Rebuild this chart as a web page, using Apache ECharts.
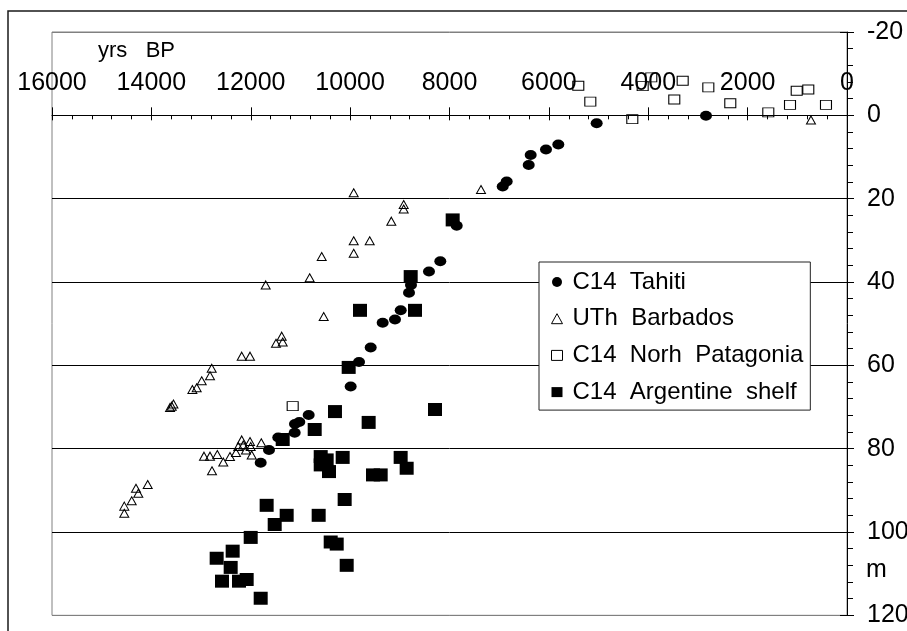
<!DOCTYPE html>
<html>
<head>
<meta charset="utf-8">
<title>Sea level since 16000 yrs BP</title>
<script src="https://cdn.jsdelivr.net/npm/echarts@6/dist/echarts.min.js"></script>
<style>
html, body { margin: 0; padding: 0; background: #fff; }
#chart { width: 907px; height: 631px; }
</style>
</head>
<body>
<div id="chart"></div>
<script>
// [yrs BP, depth m]
var tahiti = [
	[2838, 0.1], [5038, 1.9], [5810, 7.0], [6058, 8.2], [6366, 9.5], [6406, 11.9],
	[6849, 15.9], [6929, 17.1], [7855, 26.5], [8185, 35.0], [8413, 37.5], [8775, 40.7],
	[8815, 42.6], [8982, 46.8], [9097, 49.0], [9345, 49.8], [9586, 55.7], [9821, 59.2],
	[9989, 65.1], [10834, 71.9], [11023, 73.6], [11110, 74.1], [11116, 76.2], [11446, 77.3],
	[11633, 80.3], [11800, 83.4]
];
var barbados = [
	[725, 1.1], [7366, 17.8], [9928, 18.6], [8922, 21.4], [8922, 22.5], [9171, 25.4],
	[9928, 30.1], [9606, 30.1], [9928, 33.1], [10572, 33.9], [10814, 39.0], [11699, 40.7],
	[10532, 48.3], [11377, 53.0], [11357, 54.4], [11492, 54.7], [12182, 57.8], [12015, 57.8],
	[12786, 60.7], [12820, 62.5], [12987, 63.7], [13088, 65.4], [13175, 65.8], [13556, 69.3],
	[13590, 69.8], [13624, 70.1], [12941, 81.8], [12820, 81.8], [12673, 81.4], [12553, 83.2],
	[12418, 81.9], [12297, 80.9], [12251, 79.5], [12182, 77.9], [12150, 79.1], [12096, 80.3],
	[12015, 78.3], [12001, 79.5], [11981, 81.5], [11788, 78.6], [12780, 85.3], [14074, 88.6],
	[14310, 89.5], [14263, 90.7], [14396, 92.5], [14545, 93.8], [14545, 95.5]
];
var patagonia = [
	[5408, -7.1], [5166, -3.3], [4112, -7.0], [3939, -9.1], [3307, -8.3], [3476, -3.8],
	[2791, -6.7], [4321, 0.9], [2349, -2.9], [1584, -0.7], [1147, -2.5], [1012, -5.9],
	[779, -6.2], [423, -2.5], [11156, 69.8]
];
var argentine = [
	[7936, 25.1], [8781, 38.7], [9801, 46.8], [8694, 46.8], [10029, 60.5], [8292, 70.6],
	[10305, 71.1], [9627, 73.7], [10713, 75.4], [11357, 77.8], [10592, 81.9], [10472, 82.7],
	[10592, 83.9], [10425, 85.5], [10150, 82.1], [9540, 86.3], [9385, 86.3], [8983, 82.1],
	[8862, 84.7], [10110, 92.2], [11680, 93.6], [11277, 96.0], [10633, 96.0], [11518, 98.2],
	[12001, 101.3], [10391, 102.4], [10270, 102.9], [12364, 104.6], [12686, 106.3], [12404, 108.5],
	[10069, 108.0], [12579, 111.8], [12237, 111.8], [12082, 111.4], [11800, 115.9]
];
var names = ['C14  Tahiti', 'UTh  Barbados', 'C14  Norh  Patagonia', 'C14  Argentine  shelf'];

var font = 'Liberation Sans, Arial, sans-serif';
var chart = echarts.init(document.getElementById('chart'));

// plain numbers, no thousands separator
function plain(v) { return String(v); }

var option = {
	animation: false,
	backgroundColor: '#fff',
	textStyle: { fontFamily: font, color: '#000' },
	title: [
		{ text: 'yrs   BP', left: 98, top: 40, padding: 0,
		  textStyle: { fontSize: 22, fontWeight: 'normal', color: '#000', fontFamily: font } },
		{ text: 'm', left: 866, top: 558, padding: 0,
		  textStyle: { fontSize: 25, fontWeight: 'normal', color: '#000', fontFamily: font } }
	],
	graphic: [
		{ type: 'rect', silent: true, z: -10,
		  shape: { x: 8, y: 11, width: 1000, height: 1000 },
		  style: { fill: 'none', stroke: '#1a1a1a', lineWidth: 1.5 } }
	],
	grid: {
		left: 52, top: 32, width: 795, height: 583.33,
		outerBoundsMode: 'none', containLabel: false,
		show: true, borderColor: '#808080', borderWidth: 1
	},
	legend: {
		orient: 'vertical', left: 539, top: 262,
		padding: [7, 7, 5, 12], itemGap: 10.7,
		itemWidth: 11, itemHeight: 10,
		backgroundColor: '#fff', borderColor: '#222', borderWidth: 1,
		selectedMode: false,
		itemStyle: { borderWidth: 1 },
		textStyle: { fontSize: 24, color: '#000', fontFamily: font, lineHeight: 26, padding: [0, 0, 0, 5] },
		data: names
	},
	xAxis: [
		{
			type: 'value', min: 0, max: 16000, interval: 2000, inverse: true,
			position: 'top', offset: -83.33,
			axisLine: { onZero: false, lineStyle: { color: '#000', width: 1 } },
			axisTick: { length: 8, lineStyle: { color: '#000' } },
			axisLabel: { fontSize: 25, color: '#000', margin: 20, fontFamily: font, formatter: plain },
			splitLine: { show: false }
		},
		{
			type: 'value', min: 0, max: 16000, interval: 2000, inverse: true,
			position: 'top', offset: -83.33,
			axisLine: { show: false, onZero: false },
			axisTick: { inside: true, length: 5, lineStyle: { color: '#000' } },
			minorTick: { show: true, splitNumber: 5, length: 4, lineStyle: { color: '#000' } },
			axisLabel: { show: false },
			splitLine: { show: false }
		}
	],
	yAxis: [
		{
			type: 'value', min: -20, max: 120, interval: 20, inverse: true,
			position: 'right',
			axisLine: { onZero: false, lineStyle: { color: '#000', width: 1 } },
			axisTick: { length: 7, lineStyle: { color: '#000' } },
			minorTick: { show: true, splitNumber: 5, length: 6, lineStyle: { color: '#000' } },
			axisLabel: { fontSize: 25, color: '#000', margin: 20, fontFamily: font, formatter: plain },
			splitLine: { show: true, lineStyle: { color: ['#808080', '#000', '#000', '#000', '#000', '#000', '#000', '#808080'], width: 1 } }
		},
		{
			type: 'value', min: -20, max: 120, interval: 20, inverse: true,
			position: 'right',
			axisLine: { show: false, onZero: false },
			axisTick: { inside: true, length: 7, lineStyle: { color: '#000' } },
			axisLabel: { show: false },
			splitLine: { show: false }
		}
	],
	series: [
		{
			name: names[3], type: 'scatter', data: argentine,
			symbol: 'rect', symbolSize: [14, 13],
			itemStyle: { color: '#000', opacity: 1 }
		},
		{
			name: names[0], type: 'scatter', data: tahiti,
			symbol: 'circle', symbolSize: [12, 10],
			itemStyle: { color: '#000', opacity: 1 }
		},
		{
			name: names[1], type: 'scatter', data: barbados,
			symbol: 'triangle', symbolSize: [9, 8],
			itemStyle: { color: 'rgba(255,255,255,0)', borderColor: '#000', borderWidth: 1, opacity: 1 }
		},
		{
			name: names[2], type: 'scatter', data: patagonia,
			symbol: 'rect', symbolSize: [11, 9],
			itemStyle: { color: 'rgba(255,255,255,0)', borderColor: '#000', borderWidth: 1, opacity: 1 }
		}
	]
};
chart.setOption(option);
</script>
</body>
</html>
